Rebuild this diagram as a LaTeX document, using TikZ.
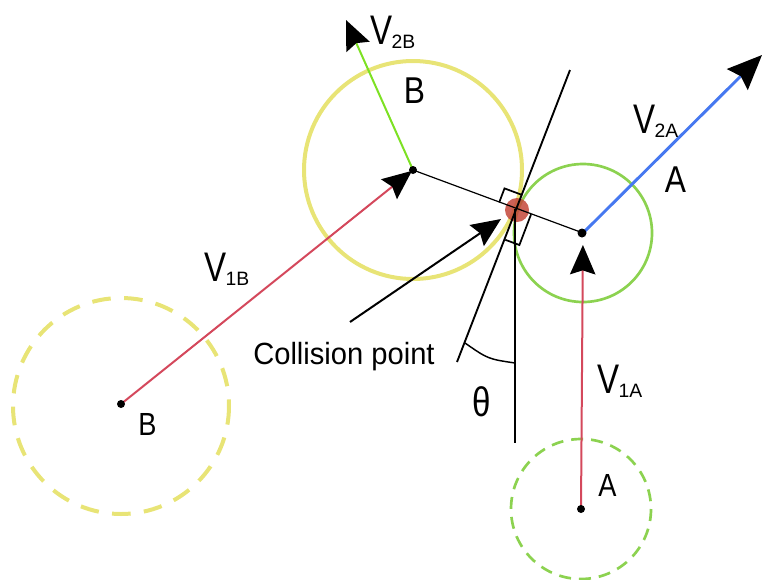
\documentclass[tikz,border=0pt]{standalone}
\usepackage{fontspec}
\setmainfont{Liberation Sans}
\usetikzlibrary{arrows.meta}
\definecolor{ycirc}{RGB}{232,228,118}
\definecolor{gcirc}{RGB}{140,210,80}
\definecolor{gline}{RGB}{125,225,35}
\definecolor{bline}{RGB}{70,120,240}
\definecolor{rline}{RGB}{212,72,92}
\definecolor{cptc}{RGB}{196,70,58}
\newcommand\vlabel[1]{\scalebox{0.8}[1]{\fontsize{31}{31}\selectfont V}\kern-0.5pt\raisebox{-3pt}{\fontsize{14.5}{14.5}\selectfont #1}}
\newcommand\biglab[1]{\scalebox{0.85}[1]{\fontsize{28}{28}\selectfont #1}}
\newcommand\smllab[1]{\scalebox{0.85}[1]{\fontsize{24}{24}\selectfont #1}}
\begin{document}
\begin{tikzpicture}[x=0.75pt,y=-0.75pt,
  headtip/.style={-{Stealth[length=22pt,width=19pt,inset=3pt,color=black]}},
  bighead/.style={-{Stealth[length=26pt,width=22pt,inset=3.5pt,color=black]}},
  txt/.style={inner sep=0pt, text=black},
  dot/.style={fill=black}]
\useasboundingbox (0,0) rectangle (763,579);
% coordinates
\coordinate (cB) at (413,170);
\coordinate (cA) at (583,233);
\coordinate (oB) at (121,404);
\coordinate (oA) at (581,509);
\coordinate (cp) at (517,209);
\coordinate (v2b) at (346,20);
\coordinate (v2a) at (762,55);
\coordinate (t1) at (570,70);
\coordinate (t2) at (457,362);
\coordinate (vt) at (515,209);
\coordinate (vb) at (515,443);
\coordinate (ct) at (350,322);
\coordinate (ch) at (501,219);
\coordinate (th1) at (465,343);
\coordinate (th2) at (515,363);
% circles
\draw[ycirc, line width=3pt] (cB) circle[radius=109];
\draw[gcirc, line width=2pt] (cA) circle[radius=69];
\draw[ycirc, line width=3pt, dash pattern=on 14pt off 10pt] (121,406) circle[radius=108];
\draw[gcirc, line width=2pt, dash pattern=on 9pt off 6pt] (oA) circle[radius=70];
% collision point
\fill[cptc, opacity=0.85] (517,210) circle[radius=12];
% center line, tangent, vertical
\draw[line width=0.9pt] (cB) -- (cA);
\draw[line width=1.4pt] (t1) -- (t2);
\draw[line width=1.1pt] (vt) -- (vb);
\draw[line width=1.1pt] (th1) .. controls (488,359) .. (th2);
% right angle marks
\draw[line width=1.3pt] (499.2,202.4) -- (504.5,188.4) -- (522.3,195);
\draw[line width=1.3pt] (531.1,214.2) -- (519.4,245) -- (505.3,239.8);
% velocity arrows
\draw[rline, line width=1.5pt, headtip, shorten >=1pt] (oB) -- (cB);
\draw[rline, line width=1.5pt, headtip, shorten >=9pt] (oA) -- (cA);
\draw[gline, line width=1.5pt, headtip] (cB) -- (v2b);
\draw[bline, line width=2.2pt, bighead] (cA) -- (v2a);
\draw[line width=1.5pt, headtip] (ct) -- (ch);
% dots
\fill[dot] (cB) circle[radius=4];
\fill[dot] (582,233) circle[radius=4.5];
\fill[dot] (oB) circle[radius=4];
\fill[dot] (oA) circle[radius=4];
% labels
\node[txt, anchor=base west] (lv2b) at (370,44) {\vlabel{2B}};
\node[txt, anchor=base west] (lv1b) at (204,281) {\vlabel{1B}};
\node[txt, anchor=base west] (lv2a) at (633,133) {\vlabel{2A}};
\node[txt, anchor=base west] (lv1a) at (597,393) {\vlabel{1A}};
\node[txt, anchor=base] (lB) at (414.5,103) {\biglab{B}};
\node[txt, anchor=base] (lA) at (675.5,192) {\biglab{A}};
\node[txt, anchor=base] (lB0) at (147.5,435) {\smllab{B}};
\node[txt, anchor=base] (lA0) at (607.5,496) {\smllab{A}};
\node[txt] (lth) at (482,402) {\scalebox{0.8}[1]{\fontsize{31}{31}\selectfont θ}};
\node[txt, anchor=base west] (lcp) at (253,364) {\scalebox{0.95}[1]{\fontsize{23}{23}\selectfont Collision point}};
\end{tikzpicture}
\end{document}
